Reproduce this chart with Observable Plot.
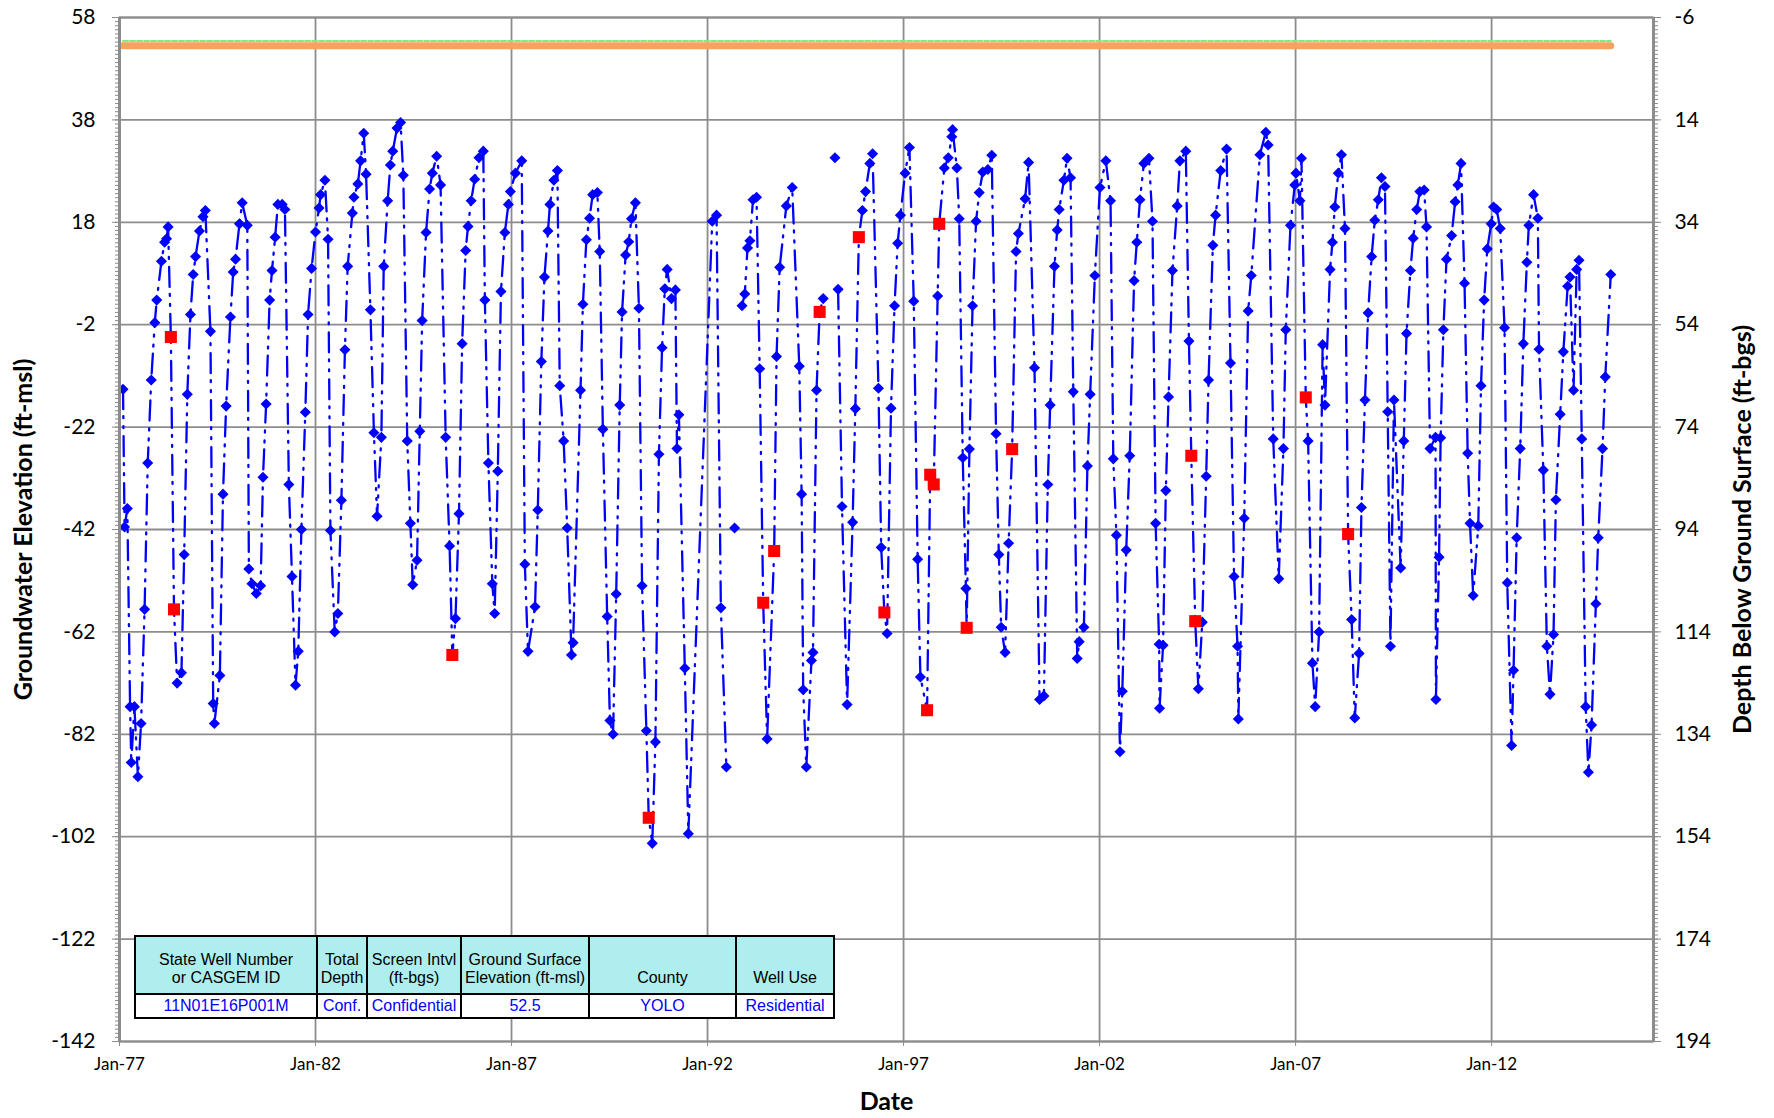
<!DOCTYPE html>
<html><head><meta charset="utf-8">
<script src="https://cdn.jsdelivr.net/npm/d3@7"></script>
<script src="https://cdn.jsdelivr.net/npm/@observablehq/plot@0.6"></script>
<style>
body{margin:0;background:#fff;}
#wrap{position:relative;width:1774px;height:1118px;overflow:hidden;}
#info{position:absolute;left:134px;top:935px;border-collapse:collapse;table-layout:fixed;width:699px;font-family:"Liberation Sans",Arial,sans-serif;font-size:16px;}
#info td{border:2px solid #000;text-align:center;padding:0 1px;white-space:nowrap;overflow:hidden;}
#info tr.h td{background:#afeeee;color:#000;vertical-align:bottom;height:50px;line-height:18px;padding-bottom:6px;}
#info tr.v td{background:#fff;color:#0000ff;height:22px;line-height:22px;}
</style></head><body><div id="wrap"></div>
<script>
// ---- axis ticks ----
const yTicks = [-142,-122,-102,-82,-62,-42,-22,-2,18,38,58];
const depthTicks = [194,174,154,134,114,94,74,54,34,14,-6];
const xTickYears = [1977,1982,1987,1992,1997,2002,2007,2012];
const xTickLabels = ["Jan-77","Jan-82","Jan-87","Jan-92","Jan-97","Jan-02","Jan-07","Jan-12"];

// ---- well info table ----
const tableHeaders = [["State Well Number","or CASGEM ID"],["Total","Depth"],["Screen Intvl","(ft-bgs)"],["Ground Surface","Elevation (ft-msl)"],["County"],["Well Use"]];
const tableValues = ["11N01E16P001M","Conf.","Confidential","52.5","YOLO","Residential"];
const tableColWidths = [182,50,94,128,147,98];

// ---- reference levels ----
const groundSurfaceElev = 52.5;
const refPointElev = 53.4;

// ---- groundwater elevation measurements (decimal year, ft-msl); null = gap ----
const blueYear = [
1977.09,1977.13,1977.20,1977.27,1977.30,1977.38,1977.47,1977.55,1977.64,1977.72,1977.81,1977.90,1977.95,
1978.07,1978.15,1978.20,1978.24,1978.47,1978.58,1978.65,1978.73,1978.81,1978.88,1978.94,
1979.04,1979.13,1979.19,1979.32,1979.39,1979.42,1979.56,1979.64,1979.72,1979.83,1979.90,1979.96,
1980.06,1980.13,1980.26,1980.30,1980.38,1980.49,1980.60,1980.66,1980.74,1980.83,1980.89,1980.97,
1981.04,1981.15,1981.22,1981.32,1981.40,1981.49,1981.56,1981.64,1981.74,1981.81,1981.90,
1982.00,1982.09,1982.13,1982.24,1982.32,1982.38,1982.49,1982.57,1982.66,1982.75,1982.82,1982.94,1982.98,
1983.08,1983.15,1983.23,1983.29,1983.40,1983.49,1983.57,1983.68,1983.74,1983.84,1983.91,1983.97,
1984.08,1984.17,1984.24,1984.34,1984.42,1984.48,1984.59,1984.66,1984.72,1984.82,1984.91,1984.98,
1985.09,1985.19,1985.32,1985.42,1985.57,1985.66,1985.74,1985.83,1985.89,1985.97,
1986.06,1986.17,1986.28,1986.32,1986.41,1986.51,1986.57,1986.65,1986.73,1986.83,1986.92,1986.97,
1987.10,1987.26,1987.34,1987.42,1987.60,1987.67,1987.76,1987.84,1987.93,1987.98,
1988.08,1988.17,1988.23,1988.33,1988.42,1988.53,1988.57,1988.76,1988.82,1988.91,1988.99,
1989.07,1989.19,1989.25,1989.33,1989.44,1989.51,1989.59,1989.67,1989.76,1989.82,1989.91,1989.99,
1990.06,1990.16,1990.25,1990.33,1990.44,1990.59,1990.67,1990.76,1990.84,1990.91,1990.97,
1991.08,1991.18,1991.22,1991.27,1991.42,1991.51,
1992.12,1992.23,1992.34,1992.48,1992.60,1992.69,1992.80,1992.88,1992.95,
1993.02,1993.08,1993.16,1993.25,1993.33,1993.52,1993.76,1993.84,
1994.01,1994.16,1994.34,1994.40,1994.44,1994.52,1994.65,1994.69,1994.78,1994.95,
1995.10,1995.25,1995.29,1995.33,1995.43,1995.56,1995.70,1995.77,1995.95,
1996.03,1996.14,1996.21,1996.36,1996.43,1996.58,1996.68,1996.77,1996.85,1996.92,
1997.04,1997.15,1997.26,1997.36,1997.43,1997.87,
1998.04,1998.14,1998.23,1998.25,1998.36,1998.42,1998.51,1998.59,1998.68,1998.76,1998.85,1998.93,
1999.02,1999.15,1999.25,1999.36,1999.43,1999.49,1999.59,1999.68,1999.87,1999.93,
2000.10,2000.19,2000.34,2000.47,2000.58,2000.68,2000.74,2000.85,2000.92,2000.97,
2001.09,2001.17,2001.26,2001.33,2001.43,2001.48,2001.60,2001.69,2001.76,2001.88,
2002.01,2002.16,2002.28,2002.35,2002.43,2002.52,2002.58,2002.68,2002.77,2002.88,2002.95,
2003.03,2003.13,2003.26,2003.35,2003.43,2003.52,2003.53,2003.62,2003.69,2003.76,2003.86,2003.98,
2004.05,2004.20,2004.28,2004.52,2004.62,2004.72,2004.78,2004.89,2004.96,
2005.09,2005.24,2005.34,2005.43,2005.52,2005.54,2005.69,2005.79,2005.87,
2006.09,2006.24,2006.30,2006.43,2006.57,2006.69,2006.75,2006.87,2006.98,
2007.01,2007.11,2007.15,2007.32,2007.43,2007.50,2007.60,2007.69,2007.75,2007.88,2007.94,
2008.00,2008.09,2008.17,2008.26,2008.43,2008.51,2008.62,2008.68,2008.77,2008.85,2008.94,
2009.02,2009.11,2009.19,2009.28,2009.35,2009.42,2009.51,2009.68,2009.76,2009.83,2009.93,
2010.00,2010.09,2010.17,2010.28,2010.34,2010.43,2010.57,2010.58,2010.66,2010.70,2010.77,2010.85,2010.98,
2011.07,2011.14,2011.22,2011.31,2011.39,2011.45,2011.53,2011.66,2011.73,2011.81,2011.89,2011.99,
2012.05,2012.13,2012.22,2012.33,2012.40,2012.51,2012.56,2012.64,2012.73,2012.81,2012.90,2012.95,
2013.07,2013.18,2013.21,2013.32,2013.41,2013.49,2013.58,2013.64,2013.75,2013.83,2013.94,
2014.00,2014.09,2014.17,2014.23,2014.30,2014.40,2014.47,2014.55,2014.66,2014.72,2014.83,2014.90,
2015.04];
const blueElev = [
-14.6,-41.5,-37.9,-76.6,-87.5,-76.6,-90.3,-79.9,-57.6,-29.0,-12.8,-1.6,2.8,
10.4,14.1,14.8,17.1,-72.0,-70.0,-46.9,-15.6,0.0,7.8,11.3,
16.3,19.1,20.3,-3.3,-76.0,-79.9,-70.5,-35.1,-17.9,-0.5,8.3,10.8,
17.7,21.8,17.4,-49.7,-52.6,-54.5,-53.0,-31.8,-17.5,2.8,8.6,15.1,
21.5,21.5,20.5,-33.2,-51.2,-72.4,-65.8,-42.0,-19.1,0.0,9.0,
16.1,20.8,23.4,26.2,14.7,-42.2,-62.0,-58.4,-36.3,-6.9,9.4,19.8,22.9,
25.5,30.0,35.4,27.4,0.9,-23.1,-39.4,-24.0,9.4,22.2,29.2,31.9,
36.4,37.5,27.2,-24.7,-40.8,-52.8,-48.0,-22.8,-1.2,16.0,24.5,27.6,
30.9,25.3,-24.0,-45.2,-59.4,-38.9,-5.7,12.5,17.2,22.2,
26.4,30.6,31.9,2.8,-29.0,-52.6,-58.4,-30.6,4.5,16.0,21.5,24.0,
27.6,30.0,-48.8,-65.8,-57.1,-38.2,-9.2,7.3,16.3,21.5,
26.2,28.1,-13.9,-24.7,-41.7,-66.5,-64.1,-14.8,2.0,14.6,18.8,
23.4,23.8,12.3,-22.4,-59.0,-79.3,-82.0,-54.6,-17.7,0.5,11.6,14.2,
18.7,21.8,1.2,-53.0,-81.3,-103.3,-83.5,-27.3,-6.5,5.0,8.8,
3.1,4.8,-26.2,-19.6,-69.1,-101.4,
18.2,19.4,-57.3,-88.4,null,-41.7,null,1.7,4.0,
13.0,14.4,22.4,22.9,-10.6,-82.9,-8.2,9.2,
21.2,24.8,-10.1,-35.1,-73.3,-88.4,-67.6,-66.0,-14.8,3.1,
null,30.6,null,4.9,-37.5,-76.2,-40.6,-18.4,20.3,
24.0,29.5,31.4,-14.4,-45.5,-62.3,-18.3,1.7,13.9,19.4,
27.6,32.6,2.6,-47.8,-70.8,3.6,
28.6,30.6,34.7,36.1,28.6,18.7,-28.0,-53.5,-26.3,1.7,18.2,23.8,
27.8,28.3,31.1,-23.3,-46.9,-61.1,-66.0,-44.7,12.3,15.8,
22.6,29.7,-10.4,-75.2,-74.5,-33.2,-17.7,9.4,16.5,20.5,
26.2,30.5,26.7,-15.1,-67.2,-63.9,-61.1,-29.6,-15.6,7.6,
24.8,30.0,22.2,-28.2,-43.1,-85.4,-73.6,-46.0,-27.6,6.6,14.1,
22.4,29.5,30.5,18.2,-40.8,-64.4,-76.9,-64.6,-34.4,-16.1,8.6,21.2,
30.0,31.9,-5.2,-73.1,-60.1,-31.6,-12.8,13.5,19.4,
28.1,32.3,-9.5,-51.2,-64.8,-79.0,-39.8,0.7,7.6,
31.2,35.6,33.1,-24.3,-51.6,-26.2,-3.0,17.4,25.3,
27.6,22.2,30.5,-24.7,-68.1,-76.6,-62.0,-5.9,-17.7,8.8,14.1,
21.0,27.6,31.2,16.8,-59.6,-78.8,-66.2,-37.7,-16.7,0.3,11.3,
18.4,22.4,26.7,25.0,-19.0,-64.8,-16.7,-49.5,-24.7,-3.7,8.6,
14.9,20.5,24.0,24.3,17.1,-26.2,-24.0,-75.2,-47.4,-24.1,-3.0,10.8,15.4,
22.0,25.3,29.5,6.1,-27.1,-40.8,-54.9,-41.3,-13.9,2.8,12.8,17.7,
21.0,20.5,16.8,-2.6,-52.4,-84.2,-69.5,-43.6,-26.2,-5.7,10.2,17.4,
23.4,18.8,-6.8,-30.4,-64.8,-74.2,-62.5,-36.2,-19.5,-7.3,5.5,
7.3,-14.8,8.8,10.6,-24.3,-76.6,-89.4,-80.2,-56.5,-43.6,-26.2,-12.2,
7.8];

// ---- questionable measurements (red squares) ----
const redYear = [1978.31,1978.39,1985.49,1990.50,1993.42,1993.70,1994.86,1995.86,1996.51,1997.60,1997.68,1997.77,1997.91,1998.61,1999.77,2004.34,2004.44,2007.26,2008.34];
const redElev = [-4.4,-57.6,-66.5,-98.3,-56.3,-46.2,0.5,15.1,-58.2,-77.3,-31.3,-33.2,17.7,-61.2,-26.3,-27.6,-59.9,-16.2,-42.9];

// ---- helpers ----
const t0 = Date.UTC(1977,0,1);
const toDate = y => new Date(t0 + (y - 1977) * 365.25 * 864e5);
const xEnd = 2016.13;

const blue = blueYear.map((t,i) => ({t, e: blueElev[i]}));
const red = redYear.map((t,i) => ({t, e: redElev[i]}));
const linePts = blue.concat(red).sort((a,b) => a.t - b.t);
const blueDots = blue.filter(d => d.e != null);
const tMin = d3.min(blueYear), tMax = d3.max(blueYear);
const groundLine = [tMin, tMax].map(t => ({t, e: groundSurfaceElev}));
const refLine = [tMin, tMax].map(t => ({t, e: refPointElev}));
const xTicks = xTickYears.map(toDate);
const xLabelOf = new Map(xTickYears.map((y,i) => [+toDate(y), xTickLabels[i]]));
const depthOf = new Map(yTicks.map((v,i) => [v, depthTicks[i]]));
const minorTicks = d3.range(0, 251).map(i => 58 - i * 0.8).filter(v => v >= -142);

const grid = "#8c8c8c";
const chart = Plot.plot({
  width: 1774, height: 1118,
  marginLeft: 119, marginRight: 121, marginTop: 17, marginBottom: 77,
  style: {fontFamily: "Lato, 'Liberation Sans', sans-serif", color: "#000", background: "#fff"},
  x: {type: "utc", domain: [toDate(1977), toDate(xEnd)]},
  y: {domain: [-142, 58]},
  marks: [
    Plot.gridX(xTicks, {stroke: grid, strokeOpacity: 1, strokeWidth: 1.8}),
    Plot.gridY(yTicks, {stroke: grid, strokeOpacity: 1, strokeWidth: 1.8}),
    Plot.frame({stroke: grid, strokeWidth: 1.8}),
    Plot.line(refLine, {x: d => toDate(d.t), y: "e", stroke: "#80ea80", strokeWidth: 2, strokeDasharray: "5,2"}),
    Plot.line(groundLine, {x: d => toDate(d.t), y: "e", stroke: "#f4a460", strokeWidth: 7, strokeLinecap: "round"}),
    Plot.line(linePts, {x: d => toDate(d.t), y: "e", stroke: "#0000ff", strokeWidth: 2.3, strokeDasharray: "20,7,2,8,2,8"}),
    Plot.dot(blueDots, {x: d => toDate(d.t), y: "e", symbol: "diamond2", r: 5, fill: "#0000ff", stroke: "none"}),
    Plot.dot(red, {x: d => toDate(d.t), y: "e", symbol: "square", r: 6.8, fill: "#ff0000", stroke: "none"}),
    Plot.ruleX([toDate(1977)], {stroke: grid, strokeWidth: 3}),
    Plot.ruleX([toDate(xEnd)], {stroke: grid, strokeWidth: 3}),
    Plot.axisY(minorTicks, {anchor: "left", tickSize: 4, tickFormat: () => "", label: null, stroke: grid}),
    Plot.axisY(minorTicks, {anchor: "right", tickSize: 4, tickFormat: () => "", label: null, stroke: grid}),
    Plot.axisY(yTicks, {anchor: "left", tickSize: 7, tickPadding: 17, fontSize: 21, label: null, stroke: grid, tickFormat: d => String(d)}),
    Plot.axisY(yTicks, {anchor: "right", tickSize: 7, tickPadding: 14, fontSize: 21, label: null, stroke: grid, tickFormat: d => String(depthOf.get(d))}),
    Plot.axisX(xTicks, {anchor: "bottom", tickSize: 5, tickPadding: 11, fontSize: 17, label: null, stroke: grid, tickFormat: d => xLabelOf.get(+d)}),
    Plot.text(["Groundwater Elevation (ft-msl)"], {text: d => d, frameAnchor: "left", textAnchor: "middle", dx: -96, rotate: -90, fontSize: 25, fontWeight: "bold"}),
    Plot.text(["Depth Below Ground Surface (ft-bgs)"], {text: d => d, frameAnchor: "right", textAnchor: "middle", dx: 89, rotate: -90, fontSize: 25, fontWeight: "bold"}),
    Plot.text(["Date"], {text: d => d, frameAnchor: "bottom", dy: 68, fontSize: 25, fontWeight: "bold"})
  ]
});
const wrap = document.getElementById("wrap");
wrap.appendChild(chart);

// table overlay
const table = document.createElement("table");
table.id = "info";
const cg = document.createElement("colgroup");
tableColWidths.forEach(w => { const c = document.createElement("col"); c.style.width = w + "px"; cg.appendChild(c); });
table.appendChild(cg);
const trH = document.createElement("tr"); trH.className = "h";
tableHeaders.forEach(lines => {
  const td = document.createElement("td");
  lines.forEach((l, i) => { if (i) td.appendChild(document.createElement("br")); td.appendChild(document.createTextNode(l)); });
  trH.appendChild(td);
});
const trV = document.createElement("tr"); trV.className = "v";
tableValues.forEach(v => { const td = document.createElement("td"); td.textContent = v; trV.appendChild(td); });
table.appendChild(trH); table.appendChild(trV);
wrap.appendChild(table);
</script></body></html>
